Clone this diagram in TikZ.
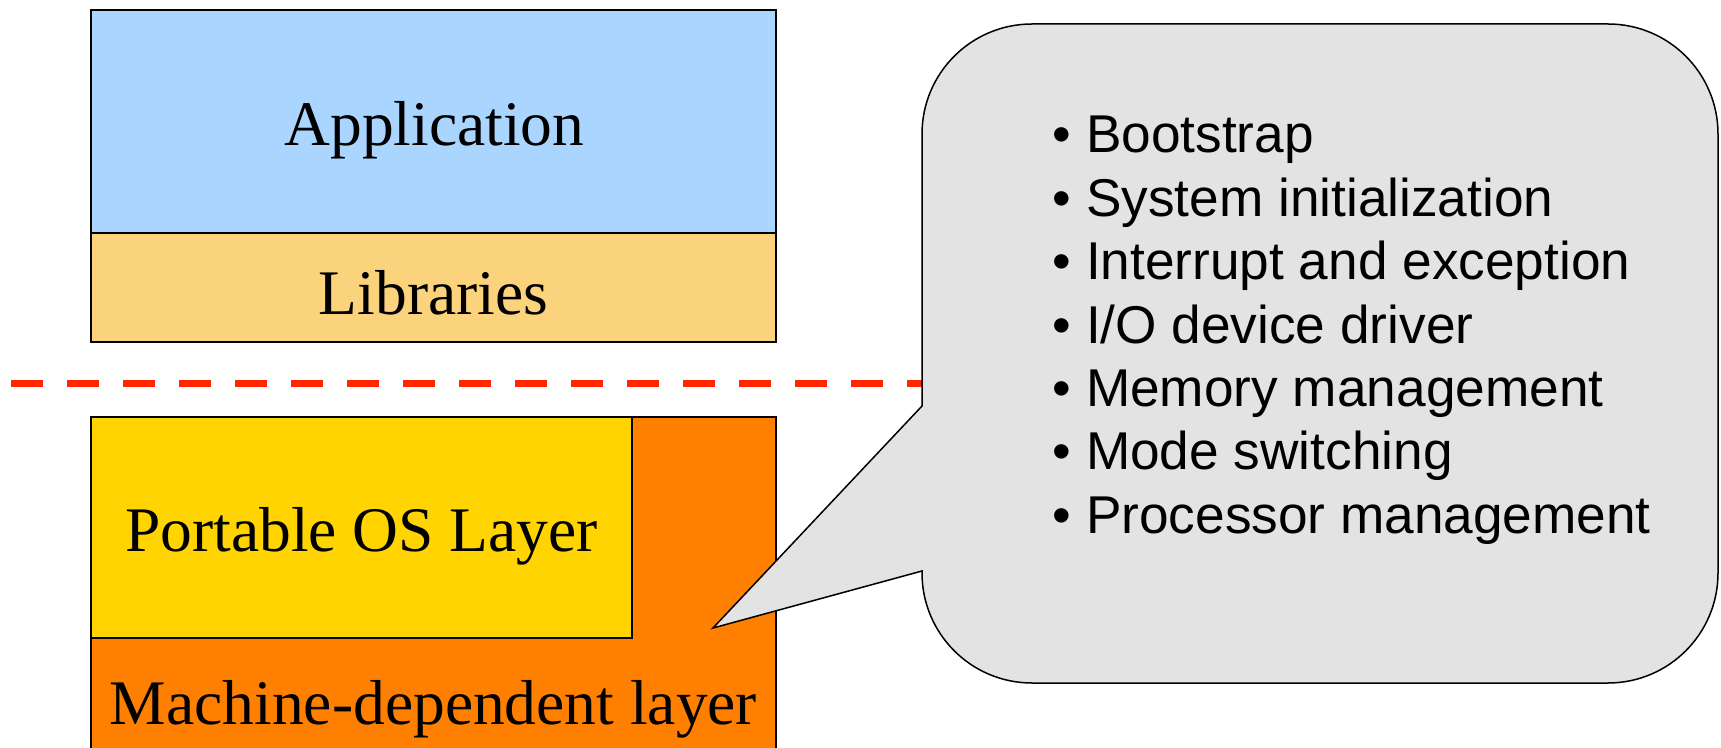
\documentclass[tikz,border=0pt]{standalone}
\usepackage{fontspec}
\setmainfont{Liberation Serif}
\newfontfamily\bulletfont{Liberation Sans}
\definecolor{appblue}{RGB}{170,213,255}
\definecolor{libyellow}{RGB}{252,211,125}
\definecolor{osyellow}{RGB}{255,212,0}
\definecolor{machorange}{RGB}{255,127,0}
\definecolor{calloutgray}{RGB}{227,227,227}
\definecolor{dashred}{RGB}{255,40,0}
\begin{document}
\begin{tikzpicture}[x=1pt,y=1pt,
  layerbox/.style={draw=black,line width=2pt},
  layertext/.style={font=\fontsize{63.5}{70}\selectfont,inner sep=0pt,anchor=base},
  itemtext/.style={font=\bulletfont\fontsize{53.2}{60}\selectfont,inner sep=0pt,anchor=base west},
  sepline/.style={draw=dashred,line width=7pt,dash pattern=on 32pt off 24pt},
  callout/.style={draw=black,line width=1.5pt,fill=calloutgray}]
\useasboundingbox (0,0) rectangle (1721,747);
% upper layers
\path[layerbox,fill=appblue] (91,737) rectangle (776,514);
\path[layerbox,fill=libyellow] (91,514) rectangle (776,405);
\node[layertext] (app) at (434.5,601) {Application};
\node[layertext] (lib) at (433.5,432) {Libraries};
% separator
\coordinate (sepL) at (11,363);
\coordinate (sepR) at (930,363);
\draw[sepline] (sepL) -- (sepR);
% lower layers
\path[layerbox,fill=machorange] (91,330) rectangle (776,-10);
\path[layerbox,fill=osyellow] (91,330) rectangle (632,109);
\node[layertext] (pos) at (361.5,195) {Portable OS Layer};
\node[layertext] (mach) at (433.5,23) {Machine-dependent layer};
% callout
\path[callout] (922,341) -- (713,119) -- (922,176) -- (922,174)
  arc[start angle=180,end angle=270,radius=110pt] -- (1608,64)
  arc[start angle=270,end angle=360,radius=110pt] -- (1718,613)
  arc[start angle=0,end angle=90,radius=110pt] -- (1032,723)
  arc[start angle=90,end angle=180,radius=110pt] -- cycle;
\node[itemtext] (i1) at (1052.5,594.1) {• Bootstrap};
\node[itemtext] (i2) at (1052.5,530.7) {• System initialization};
\node[itemtext] (i3) at (1052.5,467.3) {• Interrupt and exception};
\node[itemtext] (i4) at (1052.5,403.9) {• I/O device driver};
\node[itemtext] (i5) at (1052.5,340.5) {• Memory management};
\node[itemtext] (i6) at (1052.5,277.1) {• Mode switching};
\node[itemtext] (i7) at (1052.5,213.7) {• Processor management};
\end{tikzpicture}
\end{document}
